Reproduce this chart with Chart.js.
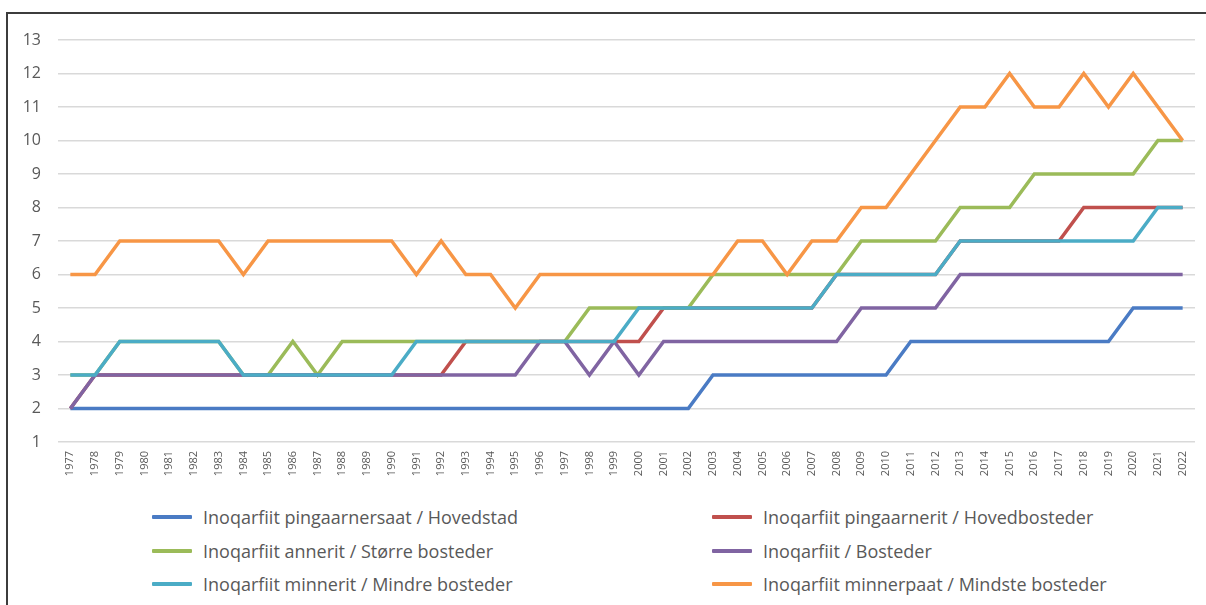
<!DOCTYPE html>
<html>
<head>
<meta charset="utf-8">
<script src="https://cdn.jsdelivr.net/npm/chart.js@4"></script>
<style>
  html, body { margin: 0; padding: 0; background: #fff; overflow: hidden; }
  body { width: 1206px; height: 605px; position: relative; font-family: "Open Sans", Lato, sans-serif; }
  #frame { position: absolute; left: 6px; top: 12px; width: 1400px; height: 800px; border: 2.5px solid #3c3c3c; border-right: none; border-bottom: none; box-sizing: border-box; }
  #wrap { position: absolute; left: 0; top: 0; width: 1206px; height: 490px; }
  #legend { position: absolute; left: 0; top: 0; }
  .item { position: absolute; height: 20px; display: flex; align-items: center; color: #595959; font-size: 18px; white-space: nowrap; }
  .item span.sw { display: inline-block; width: 40px; height: 4px; margin-right: 11px; border-radius: 1px; }
</style>
</head>
<body>
<div id="frame"></div>
<div id="wrap"><canvas id="chart"></canvas></div>
<div id="legend"></div>
<script>
// years on the category axis
const years = ["1977","1978","1979","1980","1981","1982","1983","1984","1985","1986",
  "1987","1988","1989","1990","1991","1992","1993","1994","1995","1996",
  "1997","1998","1999","2000","2001","2002","2003","2004","2005","2006",
  "2007","2008","2009","2010","2011","2012","2013","2014","2015","2016",
  "2017","2018","2019","2020","2021","2022"];

const hovedstad = [2,2,2,2,2,2,2,2,2,2, 2,2,2,2,2,2,2,2,2,2, 2,2,2,2,2,2,3,3,3,3, 3,3,3,3,4,4,4,4,4,4, 4,4,4,5,5,5];
const hovedbosteder = [2,3,3,3,3,3,3,3,3,3, 3,3,3,3,3,3,4,4,4,4, 4,4,4,4,5,5,5,5,5,5, 5,6,6,6,6,6,7,7,7,7, 7,8,8,8,8,8];
const storre = [3,3,4,4,4,4,4,3,3,4, 3,4,4,4,4,4,4,4,4,4, 4,5,5,5,5,5,6,6,6,6, 6,6,7,7,7,7,8,8,8,9, 9,9,9,9,10,10];
const bosteder = [2,3,3,3,3,3,3,3,3,3, 3,3,3,3,3,3,3,3,3,4, 4,3,4,3,4,4,4,4,4,4, 4,4,5,5,5,5,6,6,6,6, 6,6,6,6,6,6];
const mindre = [3,3,4,4,4,4,4,3,3,3, 3,3,3,3,4,4,4,4,4,4, 4,4,4,5,5,5,5,5,5,5, 5,6,6,6,6,6,7,7,7,7, 7,7,7,7,8,8];
const mindste = [6,6,7,7,7,7,7,6,7,7, 7,7,7,7,6,7,6,6,5,6, 6,6,6,6,6,6,6,7,7,6, 7,7,8,8,9,10,11,11,12,11, 11,12,11,12,11,10];

const seriesNames = [
  "Inoqarfiit pingaarnersaat / Hovedstad",
  "Inoqarfiit pingaarnerit / Hovedbosteder",
  "Inoqarfiit annerit / Større bosteder",
  "Inoqarfiit / Bosteder",
  "Inoqarfiit minnerit / Mindre bosteder",
  "Inoqarfiit minnerpaat / Mindste bosteder"
];
const seriesData = [hovedstad, hovedbosteder, storre, bosteder, mindre, mindste];
const seriesColors = ["#4a7bc4", "#c0504d", "#9bbb59", "#8064a2", "#4bacc6", "#f79646"];

const textColor = "#595959";
const gridColor = "#d9d9d9";

const datasets = seriesNames.map((name, i) => ({
  label: name,
  data: seriesData[i],
  borderColor: seriesColors[i],
  backgroundColor: seriesColors[i],
  borderWidth: 3.5,
  pointRadius: 0,
  tension: 0,
  fill: false,
  order: seriesNames.length - i // later series on top, like the original
}));

new Chart(document.getElementById("chart"), {
  type: "line",
  data: { labels: years, datasets: datasets },
  options: {
    responsive: true,
    maintainAspectRatio: false,
    animation: false,
    layout: { padding: { left: 20, top: 40, right: 11, bottom: 0 } },
    plugins: {
      legend: { display: false },
      tooltip: { enabled: false }
    },
    scales: {
      x: {
        offset: true,
        grid: { display: false, drawTicks: false },
        border: { display: false },
        ticks: {
          color: textColor,
          font: { family: "Open Sans", size: 11 },
          minRotation: 90,
          maxRotation: 90,
          autoSkip: false,
          padding: 9
        },
        afterFit: function (scale) { scale.height = 48; }
      },
      y: {
        min: 1,
        max: 13,
        ticks: {
          stepSize: 1,
          color: textColor,
          font: { family: "Open Sans", size: 16 },
          padding: 17
        },
        grid: { color: gridColor, lineWidth: 1.5, drawTicks: false },
        border: { display: false },
        afterFit: function (scale) { scale.width = 38; }
      }
    }
  }
});

// legend in two columns, like the original
const legend = document.getElementById("legend");
seriesNames.forEach((name, k) => {
  const col = k % 2, row = Math.floor(k / 2);
  const el = document.createElement("div");
  el.className = "item";
  el.style.left = (col === 0 ? 152 : 712) + "px";
  el.style.top = (507 + row * 33.5) + "px";
  el.innerHTML = '<span class="sw" style="background:' + seriesColors[k] + '"></span>' + name;
  legend.appendChild(el);
});
</script>
</body>
</html>
